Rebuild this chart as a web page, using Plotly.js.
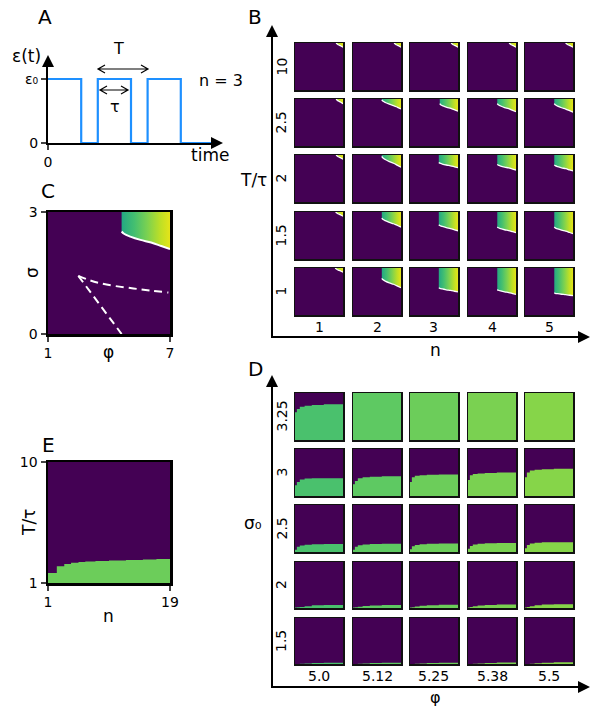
<!DOCTYPE html>
<html><head><meta charset="utf-8">
<script src="https://cdn.plot.ly/plotly-3.0.1.min.js"></script>
<style>html,body{margin:0;padding:0;background:#fff}#chart{width:590px;height:706px}</style>
</head><body><div id="chart"></div>
<script>
// ---------------- DATA ----------------
// Panel A: pulse train
const tA = [0, 2, 3, 5, 6, 8, 9.9];
const epsA = [1, 0, 1, 0, 1, 0, 0];

// Panel C: phase diagram (phi 1..7, sigma 0..3)
const cLeft = 4.62, cStart = 2.52, cEnd = 2.09;
const cDash1Phi = [2.49, 3.0, 3.56, 4.3, 5.2, 6.0, 6.92];
const cDash1Sig = [1.43, 1.33, 1.25, 1.18, 1.12, 1.07, 1.02];
const cDash2Phi = [2.49, 4.62];
const cDash2Sig = [1.43, 0];
// normalised shape of the boundary curve
const curveU = [0, 0.05, 0.18, 0.39, 0.61, 0.82, 1];
const curveV = [0, 0.13, 0.29, 0.48, 0.63, 0.83, 1];

// Panel B: rows T/tau, columns n
const bN = ['1', '2', '3', '4', '5'];
const bRatio = ['10', '2.5', '2', '1.5', '1'];
const bLeft = [
  [6.16, 6.16, 6.16, 6.16, 6.1],
  [6.16, 4.6, 4.72, 4.66, 4.66],
  [6.16, 4.6, 4.6, 4.66, 4.66],
  [6.1, 4.6, 4.6, 4.66, 4.66],
  [6.04, 4.6, 4.6, 4.66, 4.66]];
const bStart = [
  [3, 3, 3, 3, 3],
  [3, 2.94, 2.7, 2.7, 2.7],
  [3, 2.91, 2.52, 2.4, 2.37],
  [3, 2.61, 2.19, 2.04, 2.04],
  [3, 2.34, 1.74, 1.62, 1.41]];
const bEnd = [
  [2.73, 2.73, 2.73, 2.73, 2.73],
  [2.7, 2.37, 2.22, 2.19, 2.16],
  [2.73, 2.22, 2.19, 2.04, 1.98],
  [2.73, 2.04, 1.8, 1.68, 1.62],
  [2.73, 1.74, 1.47, 1.32, 1.23]];

// Panel E: n 1..19, T/tau 1..10
const nE = [1, 2.3, 3.4, 4.4, 5.5, 6.5, 8, 10, 12.5, 15, 17, 19];
const ratioE = [1.75, 2.24, 2.42, 2.5, 2.57, 2.6, 2.64, 2.68, 2.72, 2.75, 2.79, 2.79];

// Panel D: rows sigma0, columns phi
const dPhi = ['5.0', '5.12', '5.25', '5.38', '5.5'];
const dSigma = ['3.25', '3', '2.5', '2', '1.5'];
const dX = [1, 1.7, 2.8, 4.6, 7.3, 11.8, 19];
const dH = [
  [[6.31, 6.94, 7.39, 7.57, 7.71, 7.84], [10, 10, 10, 10, 10, 10], [10, 10, 10, 10, 10, 10], [10, 10, 10, 10, 10, 10], [10, 10, 10, 10, 10, 10]],
  [[3.07, 3.7, 4.15, 4.33, 4.38, 4.42], [3.25, 3.88, 4.42, 4.6, 4.69, 4.78], [3.7, 4.6, 4.87, 4.96, 5.05, 5.14], [4.06, 4.96, 5.23, 5.32, 5.41, 5.5], [4.6, 5.5, 5.86, 6.04, 6.13, 6.22]],
  [[1.45, 1.99, 2.26, 2.4, 2.49, 2.53], [1.45, 1.99, 2.31, 2.44, 2.53, 2.58], [1.54, 2.08, 2.35, 2.49, 2.58, 2.62], [1.63, 2.17, 2.44, 2.58, 2.67, 2.71], [1.72, 2.35, 2.62, 2.76, 2.85, 2.89]],
  [[1.09, 1.14, 1.18, 1.36, 1.54, 1.59], [1.09, 1.14, 1.23, 1.41, 1.5, 1.59], [1.09, 1.14, 1.27, 1.45, 1.54, 1.63], [1.09, 1.18, 1.32, 1.5, 1.59, 1.68], [1.09, 1.18, 1.36, 1.54, 1.68, 1.72]],
  [[1, 1, 1.05, 1.09, 1.18, 1.23], [1, 1, 1.05, 1.09, 1.18, 1.23], [1, 1, 1.05, 1.09, 1.18, 1.23], [1, 1, 1.05, 1.09, 1.18, 1.27], [1, 1, 1.05, 1.14, 1.23, 1.32]]];
const dColors = ['#4ac16d', '#5ec962', '#6ccd5a', '#7ad151', '#86d549'];

// ---------------- STYLE / LAYOUT ----------------
const W = 590, H = 706;
const FONT = 'DejaVu Sans';
const PURPLE = '#440154';
const GRAD = [[0, '#22a884'], [0.27, '#44bf70'], [0.53, '#7ad151'], [0.8, '#bddf26'], [1, '#e5e419']];
const GREEN_E = '#6ccd5a';

const colX = [[295, 343], [353, 401], [410, 458], [468, 516], [525, 573]];
const bRowY = [[43, 90], [99, 146], [155, 202], [212, 259], [268, 315]];
const dRowY = [[393, 440], [449, 496], [505, 552], [562, 608], [618, 664]];

function xd(a, b) { return [a / W, b / W]; }
function yd(t, b) { return [1 - b / H, 1 - t / H]; }
function px(x) { return x / W; }
function py(y) { return 1 - y / H; }
function P(x, y) { return px(x) + ',' + py(y); }

const traces = [];
const annotations = [];
const shapes = [];
const layout = {
  width: W, height: H, margin: {l: 0, r: 0, t: 0, b: 0},
  paper_bgcolor: '#ffffff', plot_bgcolor: PURPLE, showlegend: false,
  font: {family: FONT, color: '#000', size: 14},
  annotations: annotations, shapes: shapes
};
const baseAx = {showgrid: false, zeroline: false, fixedrange: true};
function ann(text, x, y, size, extra) {
  annotations.push(Object.assign({text: text, x: px(x), y: py(y), xref: 'paper', yref: 'paper',
    xanchor: 'center', yanchor: 'middle', showarrow: false, font: {family: FONT, size: size, color: '#000'}}, extra || {}));
}
function tri(tipX, tipY, dir) {
  let p;
  if (dir === 'up') p = 'M' + P(tipX, tipY) + 'L' + P(tipX - 6, tipY + 12) + 'L' + P(tipX + 6, tipY + 12) + 'Z';
  else p = 'M' + P(tipX, tipY) + 'L' + P(tipX - 12, tipY - 6) + 'L' + P(tipX - 12, tipY + 6) + 'Z';
  shapes.push({type: 'path', xref: 'paper', yref: 'paper', path: p, fillcolor: '#000', line: {width: 0}});
}
function seg(x0, y0, x1, y1, w) {
  shapes.push({type: 'line', xref: 'paper', yref: 'paper', x0: px(x0), y0: py(y0), x1: px(x1), y1: py(y1), line: {color: '#000', width: w || 2}});
}
function dblArrow(x0, x1, y) {
  const p = 'M' + P(x0, y) + 'L' + P(x1, y) + 'M' + P(x0 + 7, y - 4) + 'L' + P(x0, y) + 'L' + P(x0 + 7, y + 4) +
    'M' + P(x1 - 7, y - 4) + 'L' + P(x1, y) + 'L' + P(x1 - 7, y + 4);
  shapes.push({type: 'path', xref: 'paper', yref: 'paper', path: p, line: {color: '#000', width: 1.2}});
}

// ---------------- PANEL A ----------------
layout.xaxis = Object.assign({domain: xd(48, 214), range: [0, 166 / 16.6], anchor: 'y', showline: true, linecolor: '#000', linewidth: 2,
  ticks: 'outside', ticklen: 5, tickwidth: 1.5, tickvals: [0], ticktext: ['0'], tickfont: {size: 14, family: FONT}}, baseAx);
layout.yaxis = Object.assign({domain: yd(66, 143), range: [0, 77 / 64], anchor: 'x', showline: true, linecolor: '#000', linewidth: 2,
  ticks: 'outside', ticklen: 5, tickwidth: 1.5, tickvals: [0, 1], ticktext: ['0', 'ε₀'], tickfont: {size: 14, family: FONT}}, baseAx);
shapes.push({type: 'rect', xref: 'x domain', yref: 'y domain', x0: 0, x1: 1, y0: 0, y1: 1, fillcolor: '#fff', line: {width: 0}, layer: 'below'});
traces.push({type: 'scatter', mode: 'lines', x: tA, y: epsA, xaxis: 'x', yaxis: 'y', line: {shape: 'hv', color: '#1e90ff', width: 2.2}, cliponaxis: false, hoverinfo: 'skip'});
tri(48, 55, 'up'); tri(223, 143, 'right');
dblArrow(98, 148, 69); dblArrow(100, 128, 90);
ann('A', 45, 17, 20);
ann('ε(t)', 26, 56, 17);
ann('T', 118, 49, 16);
ann('τ', 115, 107, 16);
ann('n = 3', 221, 80, 16);
ann('time', 210, 155, 17);

// ---------------- PANEL C ----------------
function boxAx(dom, range, tv, anchor) {
  return Object.assign({domain: dom, range: range, anchor: anchor, showline: true, mirror: true, linecolor: '#000', linewidth: 2.5,
    ticks: 'outside', ticklen: 5, tickwidth: 2, tickvals: tv, tickfont: {size: 14, family: FONT}}, baseAx);
}
layout.xaxis2 = boxAx(xd(48, 170), [1, 7], [1, 7], 'y2');
layout.yaxis2 = boxAx(yd(212, 334), [0, 3], [0, 3], 'x2');
function region(L, S, E, xa, ya, lw) {
  const cx = curveU.map(u => L + u * (7 - L));
  const cy = curveV.map(v => S - v * (S - E));
  traces.push({type: 'scatter', mode: 'lines', x: [L].concat(cx, [7]), y: [3].concat(cy, [3]), xaxis: xa, yaxis: ya,
    fill: 'toself', fillgradient: {type: 'horizontal', colorscale: GRAD, start: 4.6, stop: 7}, line: {width: 0}, hoverinfo: 'skip'});
  traces.push({type: 'scatter', mode: 'lines', x: cx, y: cy, xaxis: xa, yaxis: ya, line: {color: '#fff', width: lw, shape: 'spline'}, hoverinfo: 'skip'});
}
region(cLeft, cStart, cEnd, 'x2', 'y2', 2);
traces.push({type: 'scatter', mode: 'lines', x: cDash1Phi, y: cDash1Sig, xaxis: 'x2', yaxis: 'y2', line: {color: '#fff', width: 2, dash: '8px,5px', shape: 'spline'}, hoverinfo: 'skip'});
traces.push({type: 'scatter', mode: 'lines', x: cDash2Phi, y: cDash2Sig, xaxis: 'x2', yaxis: 'y2', line: {color: '#fff', width: 2, dash: '8px,5px'}, hoverinfo: 'skip'});
ann('C', 48, 191, 20);
ann('σ', 32, 273, 17, {textangle: -90});
ann('φ', 108, 352, 17);

// ---------------- PANEL E ----------------
layout.xaxis3 = boxAx(xd(48, 170), [1, 19], [1, 19], 'y3');
layout.yaxis3 = boxAx(yd(462, 583), [1, 10], [1, 10], 'x3');
traces.push({type: 'scatter', mode: 'lines', x: nE, y: ratioE, xaxis: 'x3', yaxis: 'y3', line: {shape: 'hv', width: 0, color: GREEN_E}, fill: 'tozeroy', fillcolor: GREEN_E, hoverinfo: 'skip'});
ann('E', 48, 445, 20);
ann('T/τ', 29, 523, 17, {textangle: -90});
ann('n', 108, 616, 17);

// ---------------- small panels ----------------
const smallAx = {showline: true, mirror: true, linecolor: '#111', linewidth: 1.5, ticks: '', showticklabels: false};
let k = 4;
for (let r = 0; r < 5; r++) {
  for (let c = 0; c < 5; c++) {
    layout['xaxis' + k] = Object.assign({domain: xd(colX[c][0], colX[c][1]), range: [1, 7], anchor: 'y' + k}, smallAx, baseAx);
    layout['yaxis' + k] = Object.assign({domain: yd(bRowY[r][0], bRowY[r][1]), range: [0, 3], anchor: 'x' + k}, smallAx, baseAx);
    region(bLeft[r][c], bStart[r][c], bEnd[r][c], 'x' + k, 'y' + k, 1.3);
    k++;
  }
}
for (let r = 0; r < 5; r++) {
  for (let c = 0; c < 5; c++) {
    layout['xaxis' + k] = Object.assign({domain: xd(colX[c][0], colX[c][1]), range: [1, 19], anchor: 'y' + k}, smallAx, baseAx);
    layout['yaxis' + k] = Object.assign({domain: yd(dRowY[r][0], dRowY[r][1]), range: [1, 10], anchor: 'x' + k}, smallAx, baseAx);
    const h = dH[r][c];
    traces.push({type: 'scatter', mode: 'lines', x: dX, y: h.concat([h[h.length - 1]]), xaxis: 'x' + k, yaxis: 'y' + k,
      line: {shape: 'hv', width: 0, color: dColors[c]}, fill: 'tozeroy', fillcolor: dColors[c], hoverinfo: 'skip'});
    k++;
  }
}
// grid labels
for (let c = 0; c < 5; c++) {
  const cx = (colX[c][0] + colX[c][1]) / 2;
  ann(bN[c], cx, 327, 14);
  ann(dPhi[c], cx, 676, 14);
}
for (let r = 0; r < 5; r++) {
  ann(bRatio[r], 281, (bRowY[r][0] + bRowY[r][1]) / 2, 14, {textangle: -90});
  ann(dSigma[r], 281, (dRowY[r][0] + dRowY[r][1]) / 2, 14, {textangle: -90});
}
// big arrow axes for B and D
seg(272, 338, 272, 36); seg(271, 337, 580, 337);
tri(272, 25, 'up'); tri(590, 337, 'right');
seg(272, 688, 272, 386); seg(271, 687, 580, 687);
tri(272, 375, 'up'); tri(590, 687, 'right');
ann('B', 255, 17, 20);
ann('T/τ', 253, 180, 17);
ann('n', 435, 350, 17);
ann('D', 255, 369, 20);
ann('σ₀', 253, 523, 17);
ann('φ', 435, 697, 16);

Plotly.newPlot('chart', traces, layout, {staticPlot: true, displayModeBar: false});
</script></body></html>
